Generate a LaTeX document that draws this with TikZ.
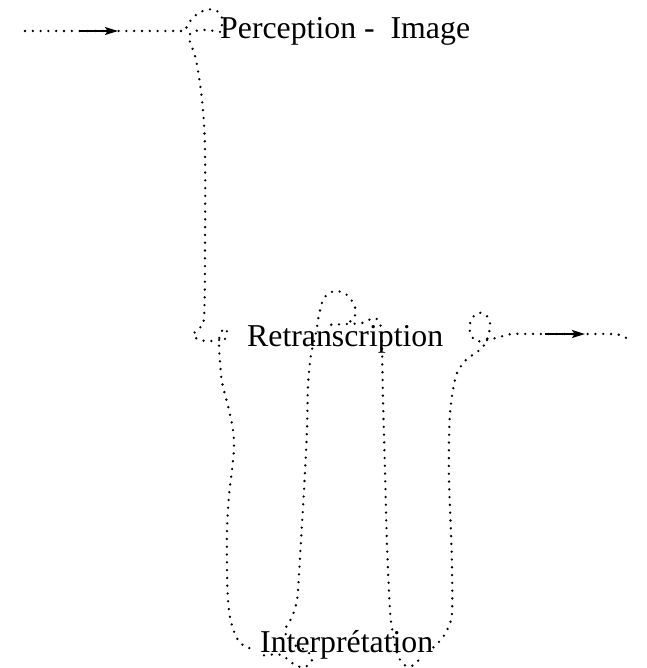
\documentclass[tikz,border=0pt]{standalone}
\usepackage{fontspec}
\setmainfont{Liberation Serif}
\usetikzlibrary{arrows.meta}
\begin{document}
\begin{tikzpicture}[x=1pt,y=-1pt,
  dotline/.style={line width=2.6pt, dash pattern=on 0pt off 7.8pt, line cap=round},
  lbl/.style={inner sep=0pt, anchor=base west, font=\fontsize{31.8}{36}\selectfont},
  tipline/.style={line width=1.4pt, -{Stealth[length=13pt,width=8pt,inset=2.5pt]}},
  sm/.style={smooth, tension=0.55}]
\useasboundingbox (0,0) rectangle (646,668);

% text nodes
\node[lbl] (P) at (220,39) {Perception - \ Image};
\node[lbl] (R) at (247,346) {Retranscription};
\node[lbl] (I) at (260,652) {Interprétation};

% connector end points
\coordinate (in) at (25,31);
\coordinate (inEnd) at (185,31);
\coordinate (a1) at (80,31);
\coordinate (a2) at (118,31);
\coordinate (Rl) at ([xshift=-22pt]R.west);
\coordinate (Rt) at ([xshift=-14pt]R.north);
\coordinate (Ia) at ([xshift=4pt,yshift=-11pt]I.west);
\coordinate (Iw) at ([xshift=-5pt,yshift=-2pt]I.west);
\coordinate (Ib) at ([xshift=-12pt,yshift=-12pt]I.east);
\coordinate (Ie) at ([yshift=-3pt]I.east);
\coordinate (out) at (628,339);
\coordinate (b1) at (545,334);
\coordinate (b2) at (585,334);

% input -> Perception
\draw[dotline] (in) -- (inEnd) .. controls (195,2) and (232,2) .. (P.west);
\draw[tipline] (a1) -- (a2);

% Perception -> Retranscription
\draw[dotline] plot[sm] coordinates {(P.west) (201,30) (189,36) (196,60) (202,100) (205,150)
  (205,250) (204,318) (199,328) (193,335) (200,340) (212,341) (Rl)};

% Retranscription -> Interpretation (left)
\draw[dotline] plot[sm] coordinates {(Rl) (227,329) (221,332) (219,342) (220,362) (222,382)
  (228,406) (233,430) (234,448) (232,470) (229,495) (227,530) (227,570) (228,600)
  (231,622) (238,640) (248,648) (Iw)};

% Interpretation -> Retranscription (loop on top)
\draw[dotline] plot[sm] coordinates {(Ia) (281,655) (295,665) (305,667) (312,660) (307,651)
  (293,644) (285,631) (292,617) (297,600) (299,575) (301,540) (304,490) (307,430)
  (308,385) (311,355) (316,333) (319,315) (324,298) (335,291) (347,295) (355,307)
  (354,318) (R.north)};

% Retranscription -> Interpretation (right)
\draw[dotline] plot[sm] coordinates {(Rt) (347,324) (362,323) (375,318) (381,327) (382,345)
  (383,400) (385,470) (387,545) (390,610) (392,628) (395,645) (399,658) (406,666)
  (414,665) (Ib)};

% Interpretation -> output
\draw[dotline] plot[sm] coordinates {(Ie) (438,643) (443,637) (448,628) (452,613) (452,567)
  (451,533) (449,480) (449,440) (450,413) (453,390) (457,373) (465,361) (474,354)
  (482,348) (488,337) (490,323) (486,315) (478,313) (471,320) (470,332) (476,341)
  (487,340) (500,337) (512,334) (540,334) (580,334) (610,334) (620,335) (out)};
\draw[tipline] (b1) -- (b2);
\end{tikzpicture}
\end{document}
